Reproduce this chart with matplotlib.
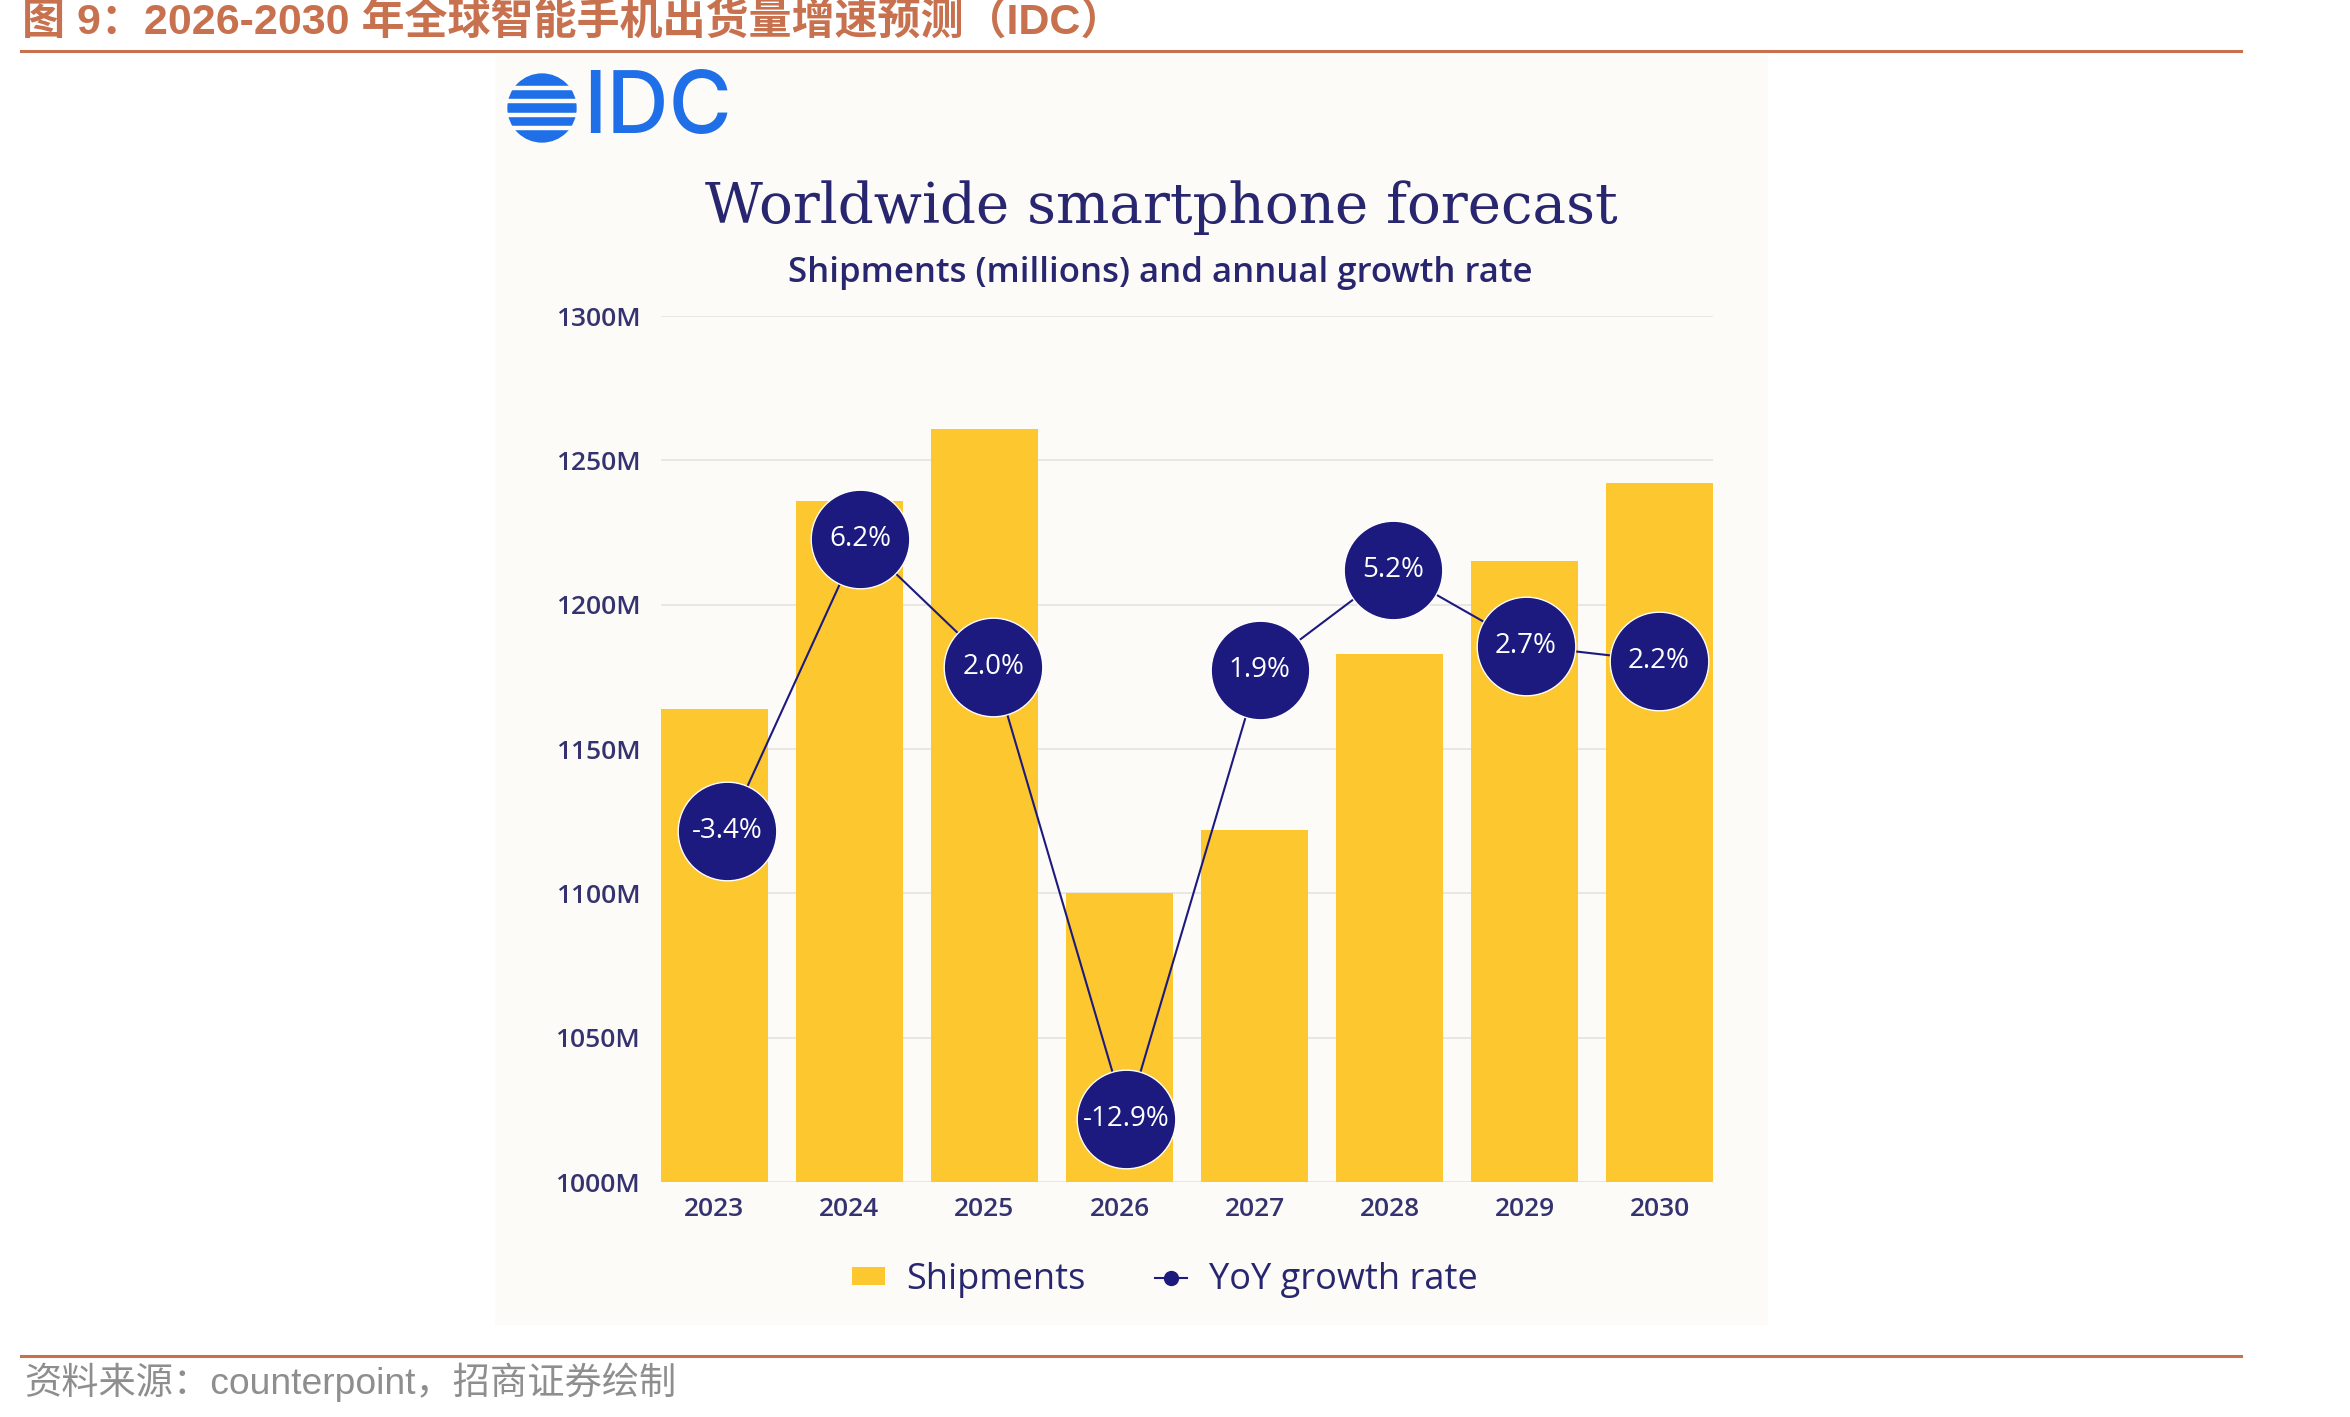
import matplotlib
matplotlib.use("Agg")
import matplotlib.pyplot as plt
from matplotlib.patches import Rectangle, Circle, Patch
from matplotlib.lines import Line2D

# data
years = ["2023", "2024", "2025", "2026", "2027", "2028", "2029", "2030"]
shipments = [1164, 1236, 1261, 1100, 1122, 1183, 1215, 1242]
growth = [-3.4, 6.2, 2.0, -12.9, 1.9, 5.2, 2.7, 2.2]
growth_labels = ["-3.4%", "6.2%", "2.0%", "-12.9%", "1.9%", "5.2%", "2.7%", "2.2%"]
y_ticks = [1000, 1050, 1100, 1150, 1200, 1250, 1300]
y_tick_labels = ["1000M", "1050M", "1100M", "1150M", "1200M", "1250M", "1300M"]

W, H = 2350, 1417
yellow = "#fdc72f"
navy = "#1c1a7e"
text_navy = "#27266f"
rust = "#c8714f"
blue = "#1f6fe8"
cjk = ["Liberation Sans", "Noto Sans CJK SC", "DejaVu Sans"]


def fx(px):
    return px / W


def fy(py):
    return 1 - py / H


fig = plt.figure(figsize=(W / 100, H / 100), dpi=100)
fig.patch.set_facecolor("white")

# report header / footer
fig.text(fx(22), fy(22), "图 9：2026-2030 年全球智能手机出货量增速预测（IDC）",
         family=cjk, fontsize=31, fontweight="bold",
         color=rust, ha="left", va="center")
fig.add_artist(Line2D([fx(21), fx(2241)], [fy(51), fy(51)], color=rust, lw=2.2))
fig.add_artist(Line2D([fx(21), fx(2241)], [fy(1356), fy(1356)], color=rust, lw=2.2))
fig.text(fx(24), fy(1382), "资料来源：counterpoint，招商证券绘制",
         family=cjk, fontsize=26.8,
         color="#8e8e8e", ha="left", va="center")

# cream chart panel
fig.add_artist(Rectangle((fx(495), fy(1325)), fx(1768 - 495), (1325 - 55) / H,
                         transform=fig.transFigure, facecolor="#fdfbf7",
                         edgecolor="none", zorder=0))

# IDC logo
logo = fig.add_axes([fx(506), fy(144), fx(72), 72 / H])
logo.set_xlim(-1.06, 1.06)
logo.set_ylim(-1.06, 1.06)
logo.set_aspect("equal")
logo.axis("off")
logo.add_patch(Circle((0, 0), 1.0, color=blue))
for gy in [-0.6, -0.2, 0.2, 0.6]:
    logo.axhline(gy, color="#fdfbf7", lw=3.2)
fig.text(fx(583), fy(110), "IDC", family="Inter", fontsize=62, fontweight="medium",
         color=blue, ha="left", va="center")

fig.text(fx(1161), fy(208), "Worldwide smartphone forecast", family="DejaVu Serif",
         fontsize=40.6, color=text_navy, ha="center", va="center")
fig.text(fx(1160), fy(273), "Shipments (millions) and annual growth rate", family="Open Sans",
         fontsize=25, fontweight="semibold", color=text_navy, ha="center", va="center")

# bars
rect = [fx(661), fy(1182), fx(1713 - 661), (1182 - 316) / H]
ax = fig.add_axes(rect)
ax.set_facecolor("none")
x = list(range(len(years)))
ax.bar(x, shipments, width=0.79, color=yellow, zorder=2)
ax.set_xlim(-0.395, 7.395)
ax.set_ylim(1000, 1300)
ax.set_yticks(y_ticks, y_tick_labels)
ax.set_xticks(x, years)
ax.yaxis.grid(True, color="#e6e3de", lw=1.2, zorder=0)
ax.set_axisbelow(True)
for s in ax.spines.values():
    s.set_visible(False)
ax.tick_params(length=0)
ax.tick_params(axis="y", pad=15, labelsize=19, labelcolor="#34336f")
ax.tick_params(axis="x", pad=11, labelsize=19, labelcolor="#34336f")
for lab in ax.get_xticklabels() + ax.get_yticklabels():
    lab.set_family("Open Sans")
    lab.set_fontweight("semibold")

# growth line on its own overlay axes
ax2 = fig.add_axes(rect, frameon=False)
ax2.set_xlim(-0.496, 7.406)
ax2.set_ylim(-14.96, 13.56)
ax2.axis("off")
ax2.plot(x, growth, color=navy, lw=1.5, zorder=3)
ax2.plot(x, growth, "o", ms=71, color=navy, mec="white", mew=1.0, zorder=4)
for xi, g, lab in zip(x, growth, growth_labels):
    ax2.text(xi, g, lab, color="white", fontsize=20, family="Open Sans",
             fontweight="medium", ha="center", va="center", zorder=5)

# legend
handles = [Patch(facecolor=yellow, edgecolor="none"),
           Line2D([0], [0], color=navy, lw=1.5, marker="o", ms=10)]
leg = fig.legend(handles, ["Shipments", "YoY growth rate"], loc="center",
                 bbox_to_anchor=(fx(1165), fy(1280)), ncol=2, frameon=False,
                 prop={"family": "Open Sans", "size": 26, "weight": "medium"},
                 handlelength=0.9, handleheight=0.4, columnspacing=1.9, handletextpad=0.6)
for t in leg.get_texts():
    t.set_color(text_navy)

fig.savefig("out.png", dpi=100)
